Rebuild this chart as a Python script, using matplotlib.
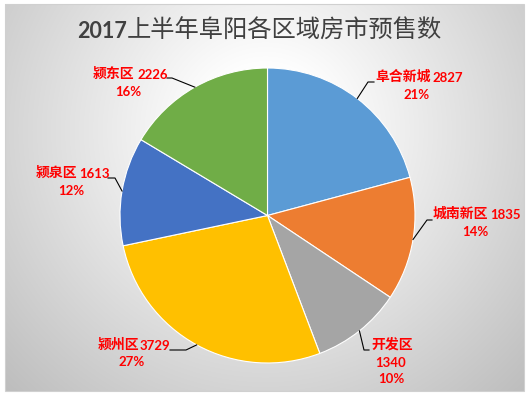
import numpy as np
import matplotlib
matplotlib.use("Agg")
import matplotlib.pyplot as plt
from matplotlib.patches import Rectangle

plt.rcParams["font.family"] = ["Noto Sans CJK SC", "DejaVu Sans"]

# data
regions = ["阜合新城", "城南新区", "开发区", "颍州区", "颍泉区", "颍东区"]
values = [2827, 1835, 1340, 3729, 1613, 2226]
colors = ["#5B9BD5", "#ED7D31", "#A5A5A5", "#FFC000", "#4472C4", "#70AD47"]
title_num = "2017"
title_txt = "上半年阜阳各区域房市预售数"

W, H = 529, 396
fig = plt.figure(figsize=(W / 100, H / 100), dpi=100)
fig.set_facecolor("white")

# background with radial gradient
bg = fig.add_axes([0, 0, 1, 1])
bg.set_xlim(0, W)
bg.set_ylim(H, 0)
bg.axis("off")
x0, x1, y0, y1 = 5, 524, 4, 391
xx, yy = np.meshgrid(np.arange(x0, x1), np.arange(y0, y1))
d = np.hypot(xx - 265, yy - 130)
g = 0.26 * np.clip((d - 60) / 310, 0, 1) ** 1.0
img = np.dstack([1 - g] * 3)
bg.imshow(img, extent=(x0, x1, y1, y0), aspect="auto", zorder=0)
bg.add_patch(Rectangle((x0, y0), x1 - x0, y1 - y0, fill=False,
                       edgecolor="#d0d0d0", lw=0.8, zorder=1))

# pie
cx, cy, r = 267.5, 215.5, 147.5
pax = fig.add_axes([(cx - r) / W, (H - cy - r) / H, 2 * r / W, 2 * r / H])
pax.patch.set_alpha(0)
pax.pie(values, colors=colors, startangle=90, counterclock=False,
        wedgeprops=dict(edgecolor="white", linewidth=0.8))
pax.set_xlim(-1, 1)
pax.set_ylim(-1, 1)
pax.axis("off")

# labels overlay
top = fig.add_axes([0, 0, 1, 1])
top.patch.set_alpha(0)
top.set_xlim(0, W)
top.set_ylim(H, 0)
top.axis("off")

total = sum(values)
fr = np.array(values) / total
mids = 90 - (np.cumsum(fr) - fr / 2) * 360

# label layout: name x, line1 y, number x, percent x/y, leader elbow + end
layout = [
    dict(nx=375, ny=77, vx=432, px=417, py=95, line=[(368, 82), (374, 82)]),
    dict(nx=433, ny=214, vx=490, px=475, py=232, line=[(427, 220), (432, 220)]),
    dict(nx=371, ny=345, vx=None, px=391, py=379, line=[(364, 350), (369, 350)]),
    dict(nx=98, ny=345, vx=140, px=132, py=362, line=[(186, 350), (170, 350)]),
    dict(nx=36, ny=173, vx=79, px=71, py=191, line=[(115, 178), (108, 178)]),
    dict(nx=93, ny=74, vx=137, px=128, py=92, line=[(172, 78), (167, 78)]),
]

red = "#FF0000"
num_font = ["Lato", "DejaVu Sans"]
for name, v, f, a, lay in zip(regions, values, fr, mids, layout):
    ex = cx + r * np.cos(np.radians(a))
    ey = cy - r * np.sin(np.radians(a))
    pts = [(ex, ey)] + lay["line"]
    top.plot([p[0] for p in pts], [p[1] for p in pts], color="black", lw=0.8)
    top.text(lay["nx"], lay["ny"], name, color=red, fontsize=10,
             fontweight="bold", ha="left", va="center")
    pct = f"{f * 100:.0f}%"
    if lay["vx"] is None:
        top.text(lay["px"], lay["ny"] + 18, str(v), color=red, fontsize=9.5,
                 family=num_font, fontweight="bold", ha="center", va="center")
    else:
        top.text(lay["vx"], lay["ny"] + 1, str(v), color=red, fontsize=9.5,
                 family=num_font, fontweight="bold", ha="left", va="center")
    top.text(lay["px"], lay["py"], pct, color=red, fontsize=9.5,
             family=num_font, fontweight="bold", ha="center", va="center")

# title
top.text(127, 31, title_num, color="#404040", fontsize=15.5,
         family=num_font, fontweight="bold", ha="right", va="center")
top.text(127, 31, title_txt, color="#404040", fontsize=17.5,
         fontweight="normal", ha="left", va="center")

fig.savefig("out.png", dpi=100)
